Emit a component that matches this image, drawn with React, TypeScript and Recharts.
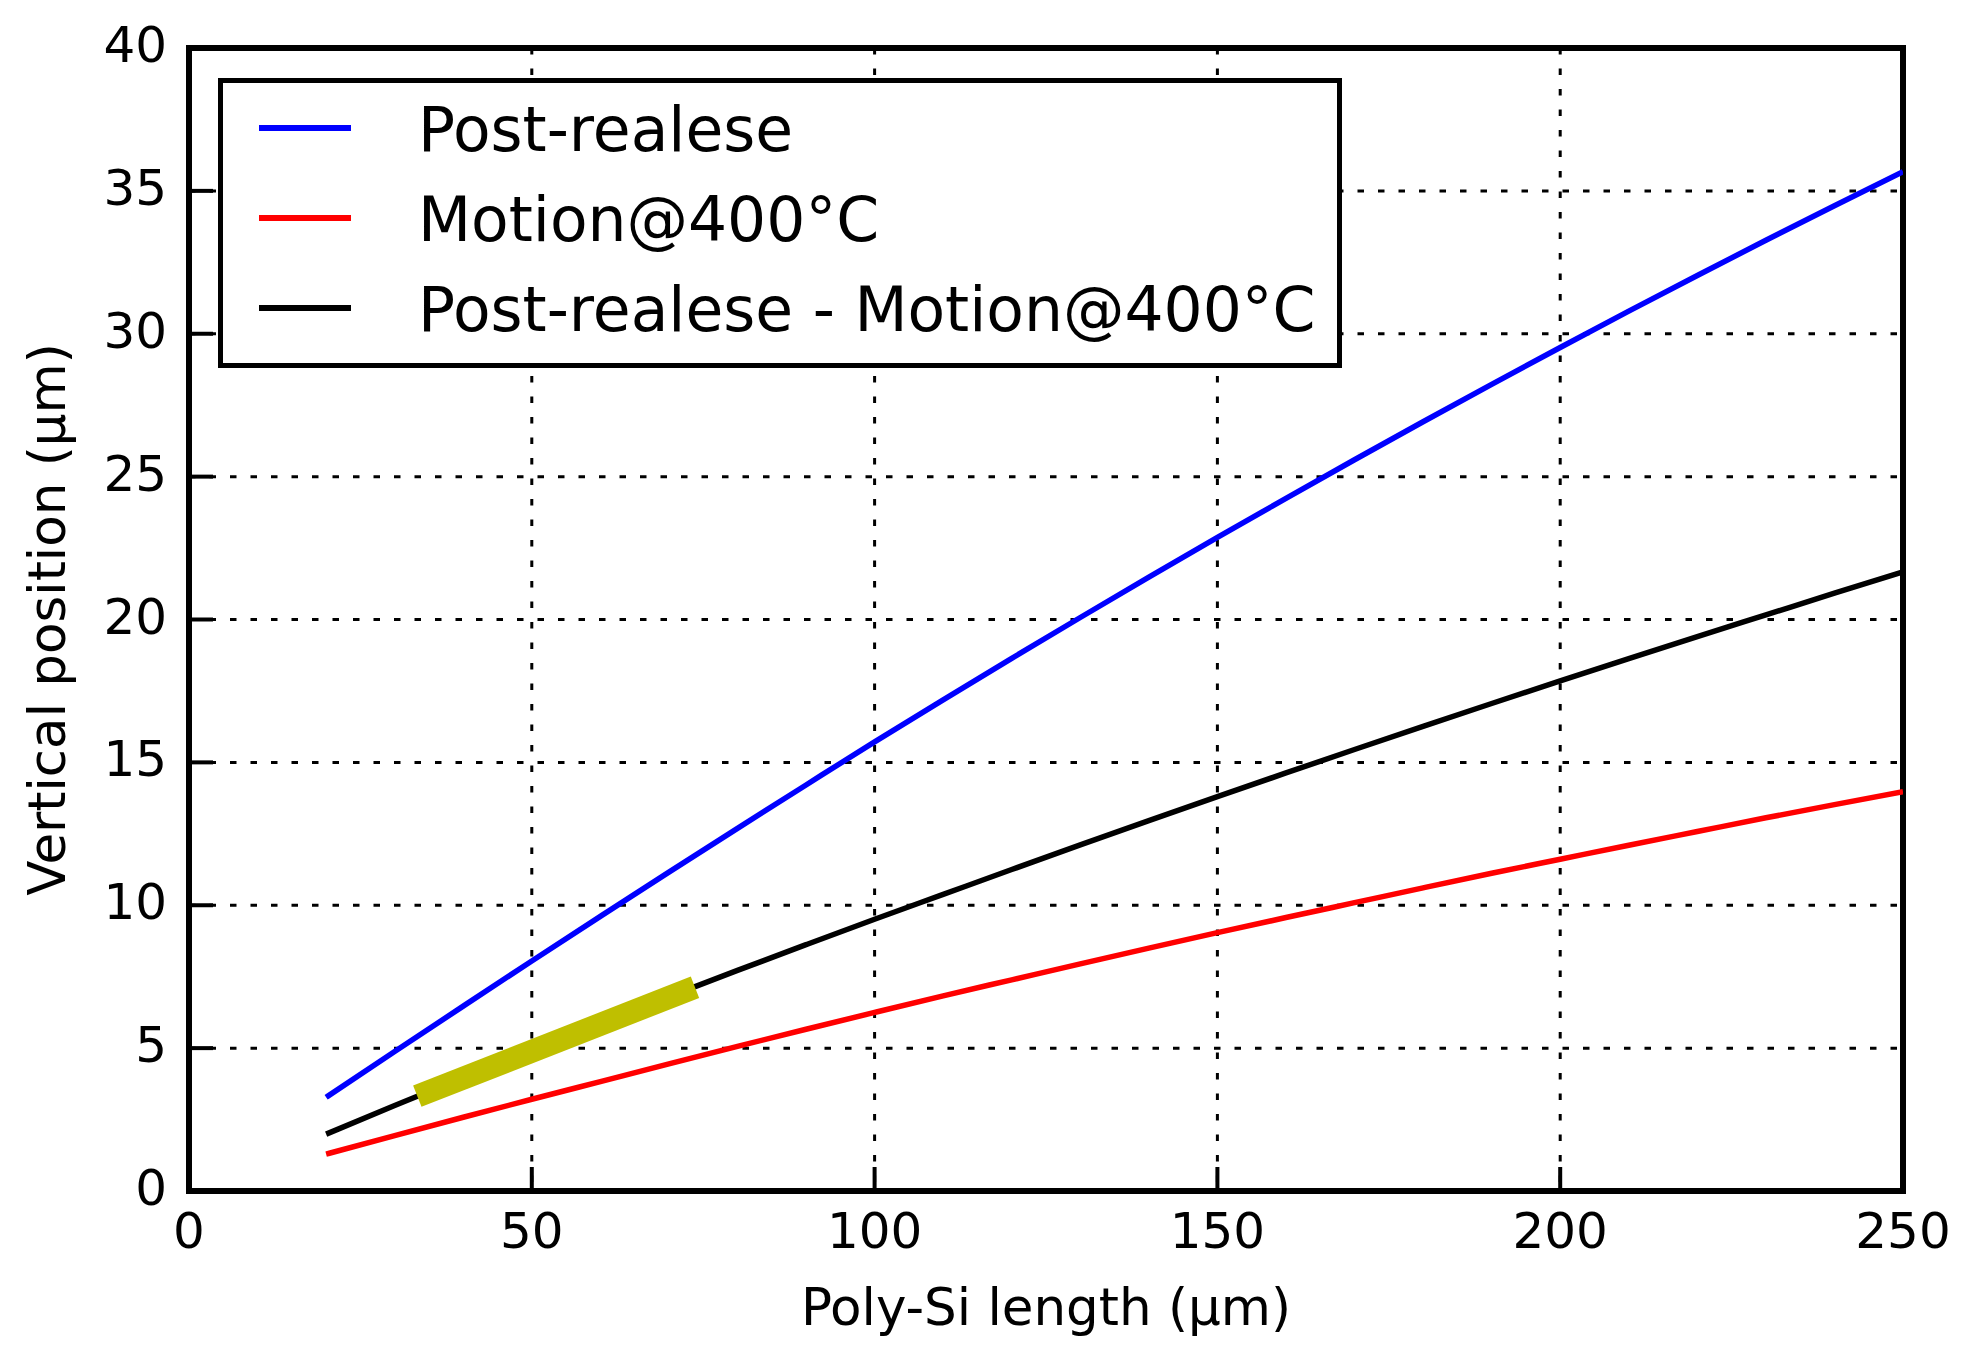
import { LineChart, Line, XAxis, YAxis, CartesianGrid, Legend, ReferenceArea, Label } from 'recharts';

const lengths = [20, 30, 40, 50, 60, 70, 80, 90, 100, 110, 120, 130, 140, 150, 160, 170, 180, 190, 200, 210, 220, 230, 240, 250];
const postRelease = [3.28, 4.88, 6.47, 8.05, 9.61, 11.16, 12.69, 14.21, 15.72, 17.19, 18.64, 20.07, 21.48, 22.87, 24.24, 25.59, 26.92, 28.23, 29.52, 30.79, 32.04, 33.27, 34.48, 35.67];
const motion400 = [1.29, 1.94, 2.58, 3.21, 3.83, 4.45, 5.06, 5.66, 6.25, 6.83, 7.39, 7.95, 8.5, 9.04, 9.57, 10.09, 10.61, 11.12, 11.61, 12.1, 12.58, 13.06, 13.52, 13.97];
const difference = [1.99, 2.99, 3.97, 4.93, 5.87, 6.8, 7.72, 8.62, 9.51, 10.38, 11.25, 12.11, 12.96, 13.8, 14.63, 15.45, 16.26, 17.06, 17.85, 18.63, 19.4, 20.16, 20.92, 21.67];
const highlightX = [33.3, 73.8];
const highlightY = [3.32, 7.13];
const xTicks = [0, 50, 100, 150, 200, 250];
const yTicks = [0, 5, 10, 15, 20, 25, 30, 35, 40];
const legendOrder = ['Post-realese', 'Motion@400°C', 'Post-realese - Motion@400°C'];

const data = lengths.map((x, i) => ({ x, post: postRelease[i], motion: motion400[i], diff: difference[i] }));
const highlight = highlightX.map((x, i) => ({ x, hl: highlightY[i] }));

const FONT = 'DejaVu Sans';
const TICK_LEN = 24;
const LINE_W = 5.5;

const LeftTick = ({ x, y, payload }: any) => (
  <g>
    <line x1={x} x2={x + TICK_LEN} y1={y} y2={y} stroke="#000" strokeWidth={4} />
    <text x={x - 22} y={y + 14} textAnchor="end" fontSize={50} fontFamily={FONT} fill="#000">{payload.value}</text>
  </g>
);

const BottomTick = ({ x, y, payload }: any) => (
  <g>
    <line x1={x} x2={x} y1={y} y2={y - TICK_LEN} stroke="#000" strokeWidth={4} />
    <text x={x} y={y + 57} textAnchor="middle" fontSize={50} fontFamily={FONT} fill="#000">{payload.value}</text>
  </g>
);

const RightTick = ({ x, y }: any) => <line x1={x} x2={x - TICK_LEN} y1={y} y2={y} stroke="#000" strokeWidth={4} />;
const TopTick = ({ x, y }: any) => <line x1={x} x2={x} y1={y} y2={y + TICK_LEN} stroke="#000" strokeWidth={4} />;

function LegendBox({ payload }: any) {
  const items = (payload || [])
    .filter((p: any) => legendOrder.includes(p.value))
    .sort((a: any, b: any) => legendOrder.indexOf(a.value) - legendOrder.indexOf(b.value));
  return (
    <svg width={1124} height={290} style={{ display: 'block' }}>
      <rect x={2.5} y={2.5} width={1119} height={285} fill="#fff" stroke="#000" strokeWidth={5} />
      {items.map((p: any, i: number) => {
        const cy = 50 + i * 90;
        return (
          <g key={p.value}>
            <line x1={41} x2={133} y1={cy} y2={cy} stroke={p.color} strokeWidth={6} />
            <text x={200} y={cy + 23} fontSize={61.5} fontFamily={FONT} fill="#000">{p.value}</text>
          </g>
        );
      })}
    </svg>
  );
}

export default function App() {
  return (
    <div style={{ position: 'absolute', left: 0, top: 0, background: '#fff' }}>
      <LineChart width={1972} height={1364} margin={{ top: 48, right: 69, bottom: 0, left: 0 }}>
        <XAxis dataKey="x" type="number" domain={[0, 250]} ticks={xTicks} allowDataOverflow
          height={173} tickSize={0} tickMargin={0} axisLine={false} tickLine={false} tick={<BottomTick />}>
          <Label content={({ viewBox }: any) => (
            <text x={viewBox.x + viewBox.width / 2} y={viewBox.y + 134} textAnchor="middle" fontSize={51.5} fontFamily={FONT} fill="#000">
              Poly-Si length (µm)
            </text>
          )} />
        </XAxis>
        <XAxis xAxisId="top" orientation="top" type="number" domain={[0, 250]} ticks={xTicks} height={0}
          tickSize={0} tickMargin={0} axisLine={false} tickLine={false} tick={<TopTick />} />
        <YAxis type="number" domain={[0, 40]} ticks={yTicks} width={189} tickSize={0} tickMargin={0}
          axisLine={false} tickLine={false} tick={<LeftTick />}>
          <Label content={({ viewBox }: any) => {
            const cx = 65;
            const cy = viewBox.y + viewBox.height / 2;
            return (
              <text x={cx} y={cy} transform={`rotate(-90, ${cx}, ${cy})`} textAnchor="middle" fontSize={51.5} fontFamily={FONT} fill="#000">
                Vertical position (µm)
              </text>
            );
          }} />
        </YAxis>
        <YAxis yAxisId="right" orientation="right" type="number" domain={[0, 40]} ticks={yTicks} width={0}
          tickSize={0} tickMargin={0} axisLine={false} tickLine={false} tick={<RightTick />} />
        <Line data={data} type="monotone" dataKey="post" name="Post-realese" stroke="#0000ff" strokeWidth={LINE_W} dot={false} isAnimationActive={false} />
        <Line data={data} type="monotone" dataKey="motion" name="Motion@400°C" stroke="#ff0000" strokeWidth={LINE_W} dot={false} isAnimationActive={false} />
        <Line data={data} type="monotone" dataKey="diff" name="Post-realese - Motion@400°C" stroke="#000000" strokeWidth={LINE_W} dot={false} isAnimationActive={false} />
        <Line data={highlight} dataKey="hl" stroke="#bfbf00" strokeWidth={23} strokeLinecap="butt" dot={false} legendType="none" isAnimationActive={false} />
        <CartesianGrid stroke="#000" strokeWidth={3} strokeDasharray="6.5 14" horizontalValues={yTicks} verticalValues={xTicks} />
        <ReferenceArea x1={0} x2={250} y1={0} y2={40} fill="none" fillOpacity={0} stroke="#000" strokeWidth={6} />
        <Legend layout="vertical" align="center" verticalAlign="middle" content={<LegendBox />}
          wrapperStyle={{ position: 'absolute', left: 218, top: 78, width: 1124, height: 290 }} />
      </LineChart>
    </div>
  );
}
